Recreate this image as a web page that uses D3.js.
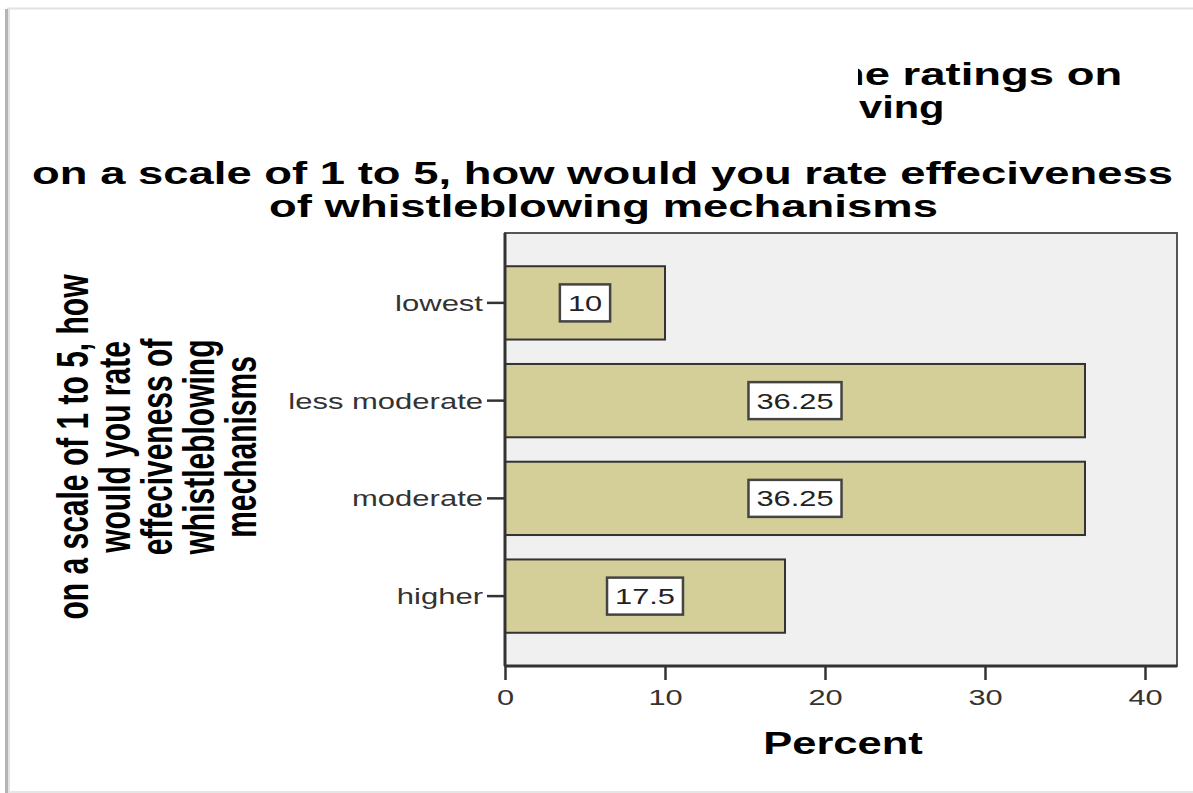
<!DOCTYPE html>
<html>
<head>
<meta charset="utf-8">
<script src="https://cdn.jsdelivr.net/npm/d3@7"></script>
<style>
  html, body { margin: 0; padding: 0; background: #fff; }
  svg { display: block; }
  text { font-family: "Liberation Sans", Arial, sans-serif; }
</style>
</head>
<body>
<svg id="chart" width="1193" height="793"></svg>
<script>
// ---- data ----
const categories = ["lowest", "less moderate", "moderate", "higher"];
const percents = [10, 36.25, 36.25, 17.5];
const xTicks = [0, 10, 20, 30, 40];
const titleLines = ["on a scale of 1 to 5, how would you rate effeciveness", "of whistleblowing mechanisms"];
const topTitleLines = ["he ratings on", "ving"];
const yTitleLines = ["on a scale of 1 to 5, how", "would you rate", "effeciveness of", "whistleblowing", "mechanisms"];
const xTitle = "Percent";

// ---- layout ----
const W = 1193, H = 793;
const plot = { left: 505, right: 1177, top: 233, bottom: 666 };

const svg = d3.select("#chart");

// page frame
svg.append("rect").attr("x", 0).attr("y", 0).attr("width", W).attr("height", H).attr("fill", "#fff");
svg.append("line").attr("x1", 7).attr("x2", W).attr("y1", 8.5).attr("y2", 8.5).attr("stroke", "#e2e2e2").attr("stroke-width", 2);
svg.append("line").attr("x1", 7).attr("x2", W).attr("y1", 792).attr("y2", 792).attr("stroke", "#e6e6e6").attr("stroke-width", 2);
svg.append("line").attr("x1", 6.5).attr("x2", 6.5).attr("y1", 9).attr("y2", H).attr("stroke", "#b4b4b4").attr("stroke-width", 3);
svg.append("line").attr("x1", 9).attr("x2", 9).attr("y1", 9).attr("y2", H).attr("stroke", "#e4e4e4").attr("stroke-width", 2);

// helper: horizontally stretched text
function stext(g, str, x, y, size, weight, anchor, sx, fill) {
  return g.append("text")
    .attr("transform", `translate(${x},${y}) scale(${sx},1)`)
    .attr("text-anchor", anchor)
    .attr("font-size", size)
    .attr("font-weight", weight)
    .attr("fill", fill || "#000")
    .text(str);
}

// partially hidden top title
svg.append("clipPath").attr("id", "topclip")
  .append("rect").attr("x", 858).attr("y", 0).attr("width", W - 858).attr("height", 200);
const topG = svg.append("g").attr("clip-path", "url(#topclip)");
stext(topG, topTitleLines[0], 837, 85, 32, "bold", "start", 1.42);
stext(topG, topTitleLines[1], 859, 118, 32, "bold", "start", 1.3);

// main title
stext(svg, titleLines[0], 602.5, 184, 32, "bold", "middle", 1.42);
stext(svg, titleLines[1], 603.5, 217, 32, "bold", "middle", 1.42);

// y title (rotated, glyphs stretched horizontally)
const yTitleBase = [88, 130, 172, 214, 256];
yTitleLines.forEach((s, i) => {
  svg.append("text")
    .attr("transform", `translate(${yTitleBase[i]},447) rotate(-90) scale(1,1.45)`)
    .attr("text-anchor", "middle")
    .attr("font-size", 30)
    .attr("font-weight", "bold")
    .attr("fill", "#000")
    .text(s);
});

// scales
const x = d3.scaleLinear().domain([0, 40]).range([505, 1145]);
const y = d3.scaleBand().domain(categories).range([plot.top, plot.bottom])
  .paddingInner(0.25).paddingOuter(0.34);

// plot background
svg.append("rect")
  .attr("x", plot.left).attr("y", plot.top)
  .attr("width", plot.right - plot.left).attr("height", plot.bottom - plot.top)
  .attr("fill", "#f0f0f0").attr("stroke", "#555").attr("stroke-width", 2);

// bars
svg.append("g").selectAll("rect").data(categories).join("rect")
  .attr("x", x(0))
  .attr("y", d => y(d))
  .attr("width", (d, i) => x(percents[i]) - x(0))
  .attr("height", y.bandwidth())
  .attr("fill", "#d4cf99")
  .attr("stroke", "#333")
  .attr("stroke-width", 2);

// value labels
const lab = svg.append("g");
categories.forEach((c, i) => {
  const g = lab.append("g").attr("transform", `translate(${x(percents[i] / 2)},${y(c) + y.bandwidth() / 2})`);
  const box = g.append("rect");
  const t = g.append("text")
    .attr("transform", `scale(1.4,1)`)
    .attr("text-anchor", "middle")
    .attr("dy", "0.36em")
    .attr("font-size", 22)
    .attr("fill", "#222")
    .text(String(percents[i]));
  const w = t.node().getComputedTextLength() * 1.4 + 16;
  box.attr("x", -w / 2).attr("y", -18.5).attr("width", w).attr("height", 37)
    .attr("fill", "#fff").attr("stroke", "#444").attr("stroke-width", 2.5);
});

// x axis
const xAxis = svg.append("g")
  .attr("transform", `translate(0,${plot.bottom})`)
  .call(d3.axisBottom(x).tickValues(xTicks).tickSize(14).tickSizeOuter(0).tickFormat(d3.format("d")));
xAxis.select(".domain").remove();
xAxis.selectAll(".tick line").attr("stroke", "#333").attr("stroke-width", 2.5);
xAxis.selectAll(".tick text")
  .attr("y", 0).attr("dy", 0)
  .attr("transform", "translate(0,39) scale(1.4,1)")
  .attr("font-size", 22).attr("fill", "#333")
  .attr("font-family", "Liberation Sans, Arial, sans-serif");
svg.append("line").attr("x1", plot.left).attr("x2", plot.right)
  .attr("y1", plot.bottom).attr("y2", plot.bottom).attr("stroke", "#333").attr("stroke-width", 3);

// y axis
const yAxis = svg.append("g")
  .attr("transform", `translate(${plot.left},0)`)
  .call(d3.axisLeft(y).tickSize(18).tickSizeOuter(0));
yAxis.select(".domain").remove();
yAxis.selectAll(".tick line").attr("stroke", "#333").attr("stroke-width", 2.5);
yAxis.selectAll(".tick text")
  .attr("x", 0).attr("dy", 0)
  .attr("transform", "translate(-22,8) scale(1.41,1)")
  .attr("text-anchor", "end")
  .attr("font-size", 22).attr("fill", "#333")
  .attr("font-family", "Liberation Sans, Arial, sans-serif");
svg.append("line").attr("x1", plot.left).attr("x2", plot.left)
  .attr("y1", plot.top).attr("y2", plot.bottom).attr("stroke", "#333").attr("stroke-width", 3);

// x title
stext(svg, xTitle, 843, 754, 32, "bold", "middle", 1.36);
</script>
</body>
</html>
